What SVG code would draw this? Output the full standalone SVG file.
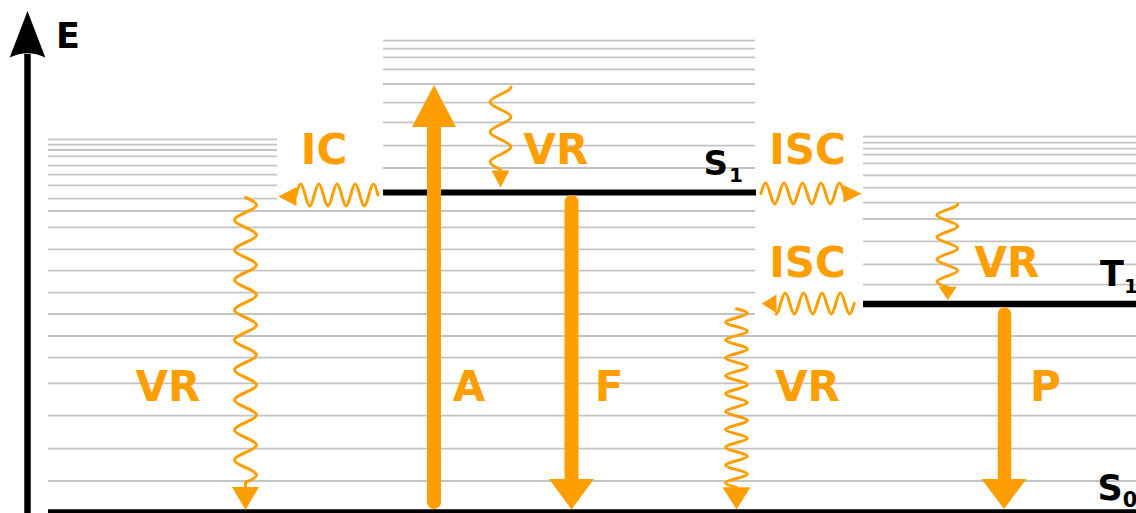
<svg xmlns="http://www.w3.org/2000/svg" width="1136" height="513" viewBox="0 0 1136 513">
<style>
.lv{fill:none;stroke:#c3c3c3;stroke-width:1.8}
.lk{fill:none;stroke:#000}
.w{fill:none;stroke:#ff9e00;stroke-width:3;stroke-linecap:round;stroke-linejoin:round}
.th{fill:none;stroke:#ff9e00;stroke-linecap:round}
.h{fill:#ff9e00}
.t{font-family:"DejaVu Sans",Verdana,sans-serif;font-weight:bold}
.o{fill:#ff9e00;font-size:42px;text-anchor:middle}
.k{fill:#000}
</style>
<rect width="1136" height="513" fill="#fff"/>
<g id="axis">
<line class="lk" x1="27.5" y1="513" x2="27.5" y2="54" stroke-width="6.5"/>
<path d="M27.5,11 L45.3,57.5 Q27.5,49 9.7,57.5 Z" fill="#000"/>
<text class="t k" x="56" y="48" font-size="35">E</text>
</g>
<g id="S0-upper">
<path class="lv" d="M48,139.3H277M48,144.7H277M48,150H277M48,156.3H277M48,165.7H277M48,174.7H277M48,185.3H277M48,198.7H277"/>
</g>
<g id="S0">
<path class="lv" d="M48,211H755" stroke-width="2.6"/>
<path class="lv" d="M48,227.3H755M48,249.3H755M48,270.7H755M48,292.7H755M48,314H755M48,336H1136M48,357.7H1136M48,383.3H1136M48,415.7H1136M48,448.7H1136M48,481H1136"/>
<line class="lk" x1="48" y1="511.2" x2="1136" y2="511.2" stroke-width="4"/>
<text class="t k" x="1097.5" y="499.5" font-size="35">S<tspan font-size="21" dy="7.5">0</tspan></text>
</g>
<g id="S1">
<path class="lv" d="M383,40.7H755M383,48.7H755M383,57.3H755M383,69.3H755M383,84H755M383,102.7H755M383,122.3H755M383,145.7H755M383,168H755"/>
<line class="lk" x1="383" y1="192.5" x2="756" y2="192.5" stroke-width="6"/>
<text class="t k" x="703.5" y="175" font-size="34">S<tspan font-size="20" dx="1" dy="7">1</tspan></text>
</g>
<g id="T1">
<path class="lv" d="M863,136.7H1136M863,142.7H1136M863,148.7H1136M863,154.7H1136M863,163.3H1136M863,175.3H1136M863,187.7H1136M863,202.7H1136M863,219H1136M863,241.3H1136M863,264.3H1136M863,284.7H1136"/>
<line class="lk" x1="863" y1="304" x2="1136" y2="304" stroke-width="6.5"/>
<text class="t k" x="1100" y="286" font-size="35">T<tspan font-size="20" dy="6.5">1</tspan></text>
</g>
<g id="connectors">
<g id="absorption">
<line class="th" x1="434" y1="502" x2="434" y2="128" stroke-width="14"/>
<polygon class="h" points="412,127 456,127 434,85"/>
<text class="t o" x="469" y="400.5">A</text>
</g>
<g id="fluorescence">
<line class="th" x1="571.5" y1="202" x2="571.5" y2="482" stroke-width="14"/>
<polygon class="h" points="549,479 594,479 571.5,509.5"/>
<text class="t o" x="609" y="400.5">F</text>
</g>
<g id="phosphorescence">
<line class="th" x1="1004.5" y1="314" x2="1004.5" y2="482" stroke-width="13.5"/>
<polygon class="h" points="981.5,479 1026.5,479 1004,509"/>
<text class="t o" x="1045.5" y="400.5">P</text>
</g>
<g id="vr-s1">
<path class="w" d="M510.9,87 c0,2.71 -5.07,5.05 -10.4,7.5 c-13.87,6.37 -13.87,8.63 0,15 s13.87,8.63 0,15 s-13.87,8.63 0,15 s13.87,8.63 0,15 s-13.87,8.63 0,15 v1.5"/>
<polygon class="h" points="491.5,170.5 509.5,170.5 500.5,187.5"/>
<text class="t o" x="556" y="163.5">VR</text>
</g>
<g id="ic">
<path class="w" d="M296.1,195 c3.86,-14.67 5.24,-14.67 9.1,0 s5.24,14.67 9.1,0 s5.24,-14.67 9.1,0 s5.24,14.67 9.1,0 s5.24,-14.67 9.1,0 s5.24,14.67 9.1,0 s5.24,-14.67 9.1,0 s5.24,14.67 9.1,0 s5.24,-14.67 9.1,0"/>
<polygon class="h" points="296.5,187 296.5,206 278.3,196.5"/>
<text class="t o" x="324" y="163.5">IC</text>
</g>
<g id="vr-s0">
<path class="w" d="M245.5,197.5 c14.67,6.37 14.67,8.63 0,15 s-14.67,8.63 0,15 s14.67,8.63 0,15 s-14.67,8.63 0,15 s14.67,8.63 0,15 s-14.67,8.63 0,15 s14.67,8.63 0,15 s-14.67,8.63 0,15 s14.67,8.63 0,15 s-14.67,8.63 0,15 s14.67,8.63 0,15 s-14.67,8.63 0,15 s14.67,8.63 0,15 s-14.67,8.63 0,15 s14.67,8.63 0,15 s-14.67,8.63 0,15 s14.67,8.63 0,15 s-14.67,8.63 0,15 s14.67,8.63 0,15 v5"/>
<polygon class="h" points="232,487 259,487 245.5,510"/>
<text class="t o" x="168" y="400.5">VR</text>
</g>
<g id="isc-s1-t1">
<path class="w" d="M760.9,193.5 c3.93,-13.87 5.32,-13.87 9.25,0 s5.32,13.87 9.25,0 s5.32,-13.87 9.25,0 s5.32,13.87 9.25,0 s5.32,-13.87 9.25,0 s5.32,13.87 9.25,0 s5.32,-13.87 9.25,0 s5.32,13.87 9.25,0 s5.32,-13.87 9.25,0"/>
<polygon class="h" points="843.3,185 843.3,202.5 861.7,193.8"/>
<text class="t o" x="807.5" y="163.5">ISC</text>
</g>
<g id="vr-t1">
<path class="w" d="M957.7,204 c0,2.01 -5.07,3.74 -10.4,5.55 c-13.87,4.71 -13.87,6.39 0,11.1 s13.87,6.39 0,11.1 s-13.87,6.39 0,11.1 s13.87,6.39 0,11.1 s-13.87,6.39 0,11.1 s13.87,6.39 0,11.1 s-13.87,6.39 0,11.1"/>
<polygon class="h" points="938.8,286.7 956.8,286.7 947.8,300"/>
<text class="t o" x="1007" y="277.3">VR</text>
</g>
<g id="isc-t1-s0">
<path class="w" d="M776,313.9 c1.66,0 3.1,-5.07 4.6,-10.4 c3.9,-13.87 5.3,-13.87 9.2,0 s5.3,13.87 9.2,0 s5.3,-13.87 9.2,0 s5.3,13.87 9.2,0 s5.3,-13.87 9.2,0 s5.3,13.87 9.2,0 s5.3,-13.87 9.2,0 s5.3,13.87 9.2,0"/>
<polygon class="h" points="776.5,294.5 776.5,313 761.7,303.6"/>
<text class="t o" x="807.5" y="277.3">ISC</text>
</g>
<g id="vr-s1-s0">
<path class="w" d="M736.5,308.8 c14.67,3.79 14.67,5.145 0,8.935 s-14.67,5.145 0,8.935 s14.67,5.145 0,8.935 s-14.67,5.145 0,8.935 s14.67,5.145 0,8.935 s-14.67,5.145 0,8.935 s14.67,5.145 0,8.935 s-14.67,5.145 0,8.935 s14.67,5.145 0,8.935 s-14.67,5.145 0,8.935 s14.67,5.145 0,8.935 s-14.67,5.145 0,8.935 s14.67,5.145 0,8.935 s-14.67,5.145 0,8.935 s14.67,5.145 0,8.935 s-14.67,5.145 0,8.935 s14.67,5.145 0,8.935 s-14.67,5.145 0,8.935 s14.67,5.145 0,8.935 s-14.67,5.145 0,8.935"/>
<polygon class="h" points="722.5,487.3 750.5,487.3 736.5,509.5"/>
<text class="t o" x="807.5" y="400.5">VR</text>
</g>
</g>
</svg>
